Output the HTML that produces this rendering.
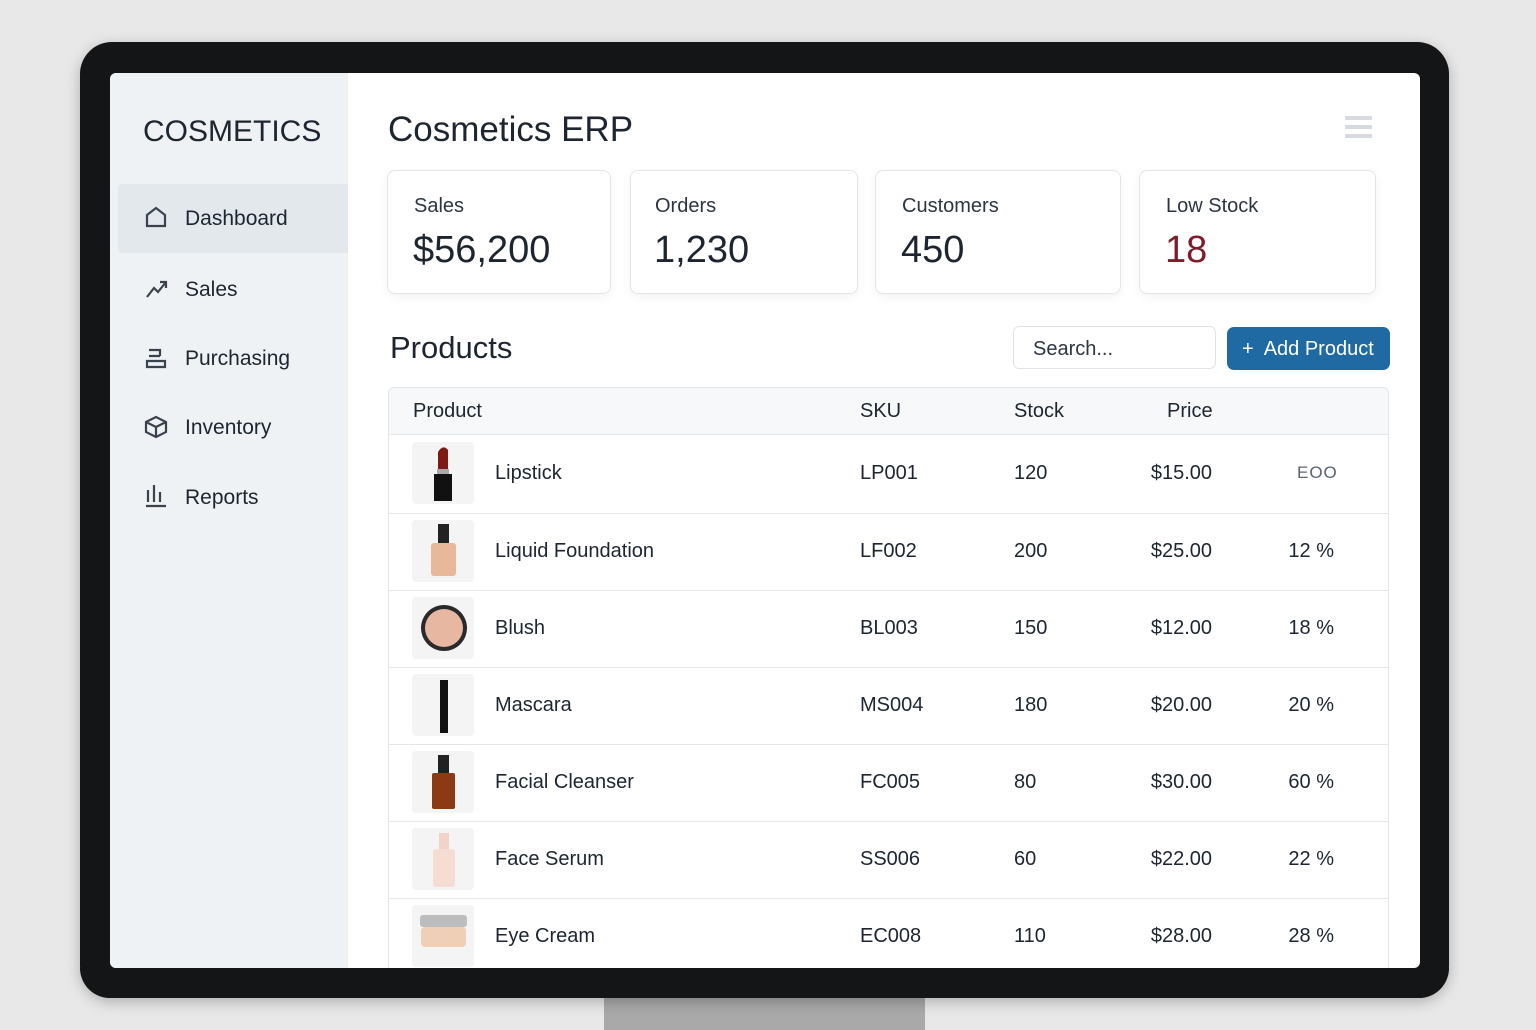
<!DOCTYPE html>
<html><head><meta charset="utf-8"><style>
*{margin:0;padding:0;box-sizing:border-box}
body{width:1536px;height:1024px;background:#e8e8e8;font-family:"Liberation Sans",sans-serif;position:relative;overflow:hidden;color:#1c2530}
.a{position:absolute}
.t{position:absolute;height:30px;line-height:30px;white-space:nowrap}
.card{position:absolute;top:170px;height:124px;background:#fff;border:1px solid #e3e6e9;border-radius:8px;box-shadow:0 3px 10px rgba(0,0,0,.05)}
.card .l{position:absolute;left:26px;top:24px;font-size:20px;color:#2c3540}
.card .v{position:absolute;left:25px;top:58px;font-size:38px;color:#1c2530}
.nav{font-size:21px;color:#1c2530}
.row{position:absolute;left:388px;width:1001px;height:1px;background:#e4e7ea}
.th{position:absolute;left:412px;width:62px;height:62px;background:#f4f4f4;border-radius:4px}
.c{font-size:20px;color:#1c2530}
</style></head><body>
<div class="a" style="left:604px;top:990px;width:321px;height:40px;background:#a9a9a9"></div>
<div class="a" style="left:80px;top:42px;width:1369px;height:956px;background:#141516;border-radius:32px;box-shadow:0 4px 14px rgba(0,0,0,.25)"></div>
<div class="a" style="left:110px;top:73px;width:1310px;height:895px;background:#fff;border-radius:6px;overflow:hidden">
 <div class="a" style="left:0;top:0;width:238px;height:895px;background:#eef2f5"></div>
 <div class="a" style="left:8px;top:111px;width:230px;height:69px;background:#e3e8ec;border-radius:4px 0 0 4px"></div>
</div>
<div class="t" style="left:143px;top:117px;font-size:30px;color:#1c2530">COSMETICS</div>
<!-- nav icons -->
<svg class="a" style="left:140px;top:200px" width="36" height="310" viewBox="0 0 36 310" fill="none" stroke="#3a434d" stroke-width="2.2">
 <path d="M7 26 V15 L16 8 L25 15 V26 Z"/>
 <path d="M7 97 L14 88 L18 92 L26 82 M20 82 H26 V88"/>
 <path d="M9 150 H20 V156 M9 156 H20 M7 161 H25 V167 H7 Z"/>
 <path d="M6 222 L16 217 L26 222 V232 L16 237 L6 232 Z M6 222 L16 227 L26 222 M16 227 V237"/>
 <path d="M8 290 V302 M14 285 V302 M20 292 V302 M6 306 H26"/>
</svg>
<div class="t nav" style="left:185px;top:204px">Dashboard</div>
<div class="t nav" style="left:185px;top:275px">Sales</div>
<div class="t nav" style="left:185px;top:344px">Purchasing</div>
<div class="t nav" style="left:185px;top:413px">Inventory</div>
<div class="t nav" style="left:185px;top:483px">Reports</div>

<div class="t" style="left:388px;top:112px;font-size:35px;height:36px;line-height:36px">Cosmetics ERP</div>
<div class="a" style="left:1345px;top:116px;width:27px;height:4px;background:#d5dbe0"></div>
<div class="a" style="left:1345px;top:125px;width:27px;height:4px;background:#d5dbe0"></div>
<div class="a" style="left:1345px;top:134px;width:27px;height:4px;background:#d5dbe0"></div>

<div class="card" style="left:387px;width:224px"><div class="l">Sales</div><div class="v">$56,200</div></div>
<div class="card" style="left:630px;width:228px"><div class="l" style="left:24px">Orders</div><div class="v" style="left:23px">1,230</div></div>
<div class="card" style="left:875px;width:246px"><div class="l">Customers</div><div class="v">450</div></div>
<div class="card" style="left:1139px;width:237px"><div class="l">Low Stock</div><div class="v" style="color:#7e1c2c">18</div></div>

<div class="t" style="left:390px;top:331px;font-size:31px;height:34px;line-height:34px">Products</div>
<div class="a" style="left:1013px;top:326px;width:203px;height:43px;border:1px solid #e0e4e8;border-radius:6px;background:#fff"></div>
<div class="t" style="left:1033px;top:334px;font-size:20px;color:#2c3540">Search...</div>
<div class="a" style="left:1227px;top:327px;width:163px;height:43px;background:#1f6aa3;border-radius:7px"></div>
<div class="t" style="left:1242px;top:334px;font-size:20px;color:#fff">+&nbsp; Add Product</div>

<div class="a" style="left:388px;top:387px;width:1001px;height:600px;border:1px solid #e2e6e9;border-radius:6px 6px 0 0;background:#fff"></div>
<div class="a" style="left:389px;top:388px;width:999px;height:47px;background:#f6f8f9;border-radius:6px 6px 0 0;border-bottom:1px solid #e4e7ea"></div>
<div class="t c" style="left:413px;top:396px">Product</div>
<div class="t c" style="left:860px;top:396px">SKU</div>
<div class="t c" style="left:1014px;top:396px">Stock</div>
<div class="t c" style="left:1167px;top:396px">Price</div>

<div class="row" style="top:513px"></div><div class="row" style="top:590px"></div><div class="row" style="top:667px"></div><div class="row" style="top:744px"></div><div class="row" style="top:821px"></div><div class="row" style="top:898px"></div>

<div class="th" style="top:442px"></div><div class="th" style="top:520px"></div><div class="th" style="top:597px"></div><div class="th" style="top:674px"></div><div class="th" style="top:751px"></div><div class="th" style="top:828px"></div><div class="th" style="top:905px"></div>
<svg class="a" style="left:412px;top:440px" width="62" height="530">
 <!-- lipstick -->
 <path d="M26 30 V12 Q31 4 36 10 V30 Z" fill="#7d1a16"/><rect x="25" y="29" width="12" height="5" fill="#aaa"/><rect x="22" y="34" width="18" height="27" fill="#111"/>
 <!-- foundation -->
 <rect x="26" y="84" width="11" height="20" fill="#222"/><rect x="19" y="103" width="25" height="33" rx="3" fill="#e8b89a"/>
 <!-- blush -->
 <circle cx="32" cy="188" r="23" fill="#2a2a2a"/><circle cx="32" cy="188" r="19" fill="#e8b7a2"/>
 <!-- mascara -->
 <rect x="28" y="240" width="8" height="53" fill="#111"/>
 <!-- cleanser -->
 <rect x="26" y="315" width="11" height="20" fill="#222"/><rect x="20" y="333" width="23" height="36" rx="2" fill="#8b3a14"/>
 <!-- serum -->
 <rect x="27" y="393" width="10" height="17" fill="#f1d3c8"/><rect x="21" y="409" width="22" height="38" rx="3" fill="#f6ddd4"/>
 <!-- eye cream -->
 <rect x="8" y="475" width="47" height="12" rx="3" fill="#bdbdbd"/><rect x="9" y="487" width="45" height="20" rx="4" fill="#efcfb6"/>
</svg>

<div class="t c" style="left:495px;top:458px">Lipstick</div>
<div class="t c" style="left:495px;top:536px">Liquid Foundation</div>
<div class="t c" style="left:495px;top:613px">Blush</div>
<div class="t c" style="left:495px;top:690px">Mascara</div>
<div class="t c" style="left:495px;top:767px">Facial Cleanser</div>
<div class="t c" style="left:495px;top:844px">Face Serum</div>
<div class="t c" style="left:495px;top:921px">Eye Cream</div>

<div class="t c" style="left:860px;top:458px">LP001</div>
<div class="t c" style="left:860px;top:536px">LF002</div>
<div class="t c" style="left:860px;top:613px">BL003</div>
<div class="t c" style="left:860px;top:690px">MS004</div>
<div class="t c" style="left:860px;top:767px">FC005</div>
<div class="t c" style="left:860px;top:844px">SS006</div>
<div class="t c" style="left:860px;top:921px">EC008</div>

<div class="t c" style="left:1014px;top:458px">120</div>
<div class="t c" style="left:1014px;top:536px">200</div>
<div class="t c" style="left:1014px;top:613px">150</div>
<div class="t c" style="left:1014px;top:690px">180</div>
<div class="t c" style="left:1014px;top:767px">80</div>
<div class="t c" style="left:1014px;top:844px">60</div>
<div class="t c" style="left:1014px;top:921px">110</div>

<div class="t c" style="right:324px;top:458px">$15.00</div>
<div class="t c" style="right:324px;top:536px">$25.00</div>
<div class="t c" style="right:324px;top:613px">$12.00</div>
<div class="t c" style="right:324px;top:690px">$20.00</div>
<div class="t c" style="right:324px;top:767px">$30.00</div>
<div class="t c" style="right:324px;top:844px">$22.00</div>
<div class="t c" style="right:324px;top:921px">$28.00</div>

<div class="t c" style="left:1297px;top:458px;font-size:17px;color:#5a6470;letter-spacing:1px">EOO</div>
<div class="t c" style="right:202px;top:536px">12 %</div>
<div class="t c" style="right:202px;top:613px">18 %</div>
<div class="t c" style="right:202px;top:690px">20 %</div>
<div class="t c" style="right:202px;top:767px">60 %</div>
<div class="t c" style="right:202px;top:844px">22 %</div>
<div class="t c" style="right:202px;top:921px">28 %</div>

<div class="a" style="left:80px;top:968px;width:1369px;height:30px;background:#141516;border-radius:0 0 32px 32px"></div>
</body></html>
